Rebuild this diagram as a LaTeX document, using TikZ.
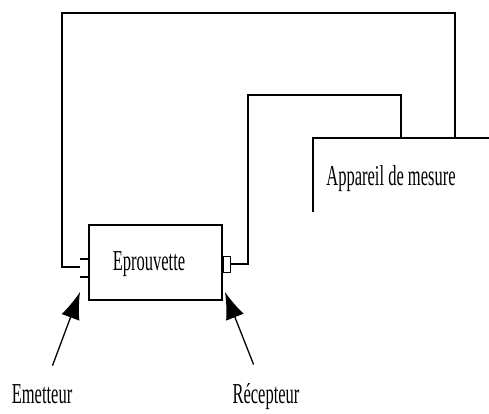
\documentclass[tikz,border=0pt]{standalone}
\usepackage{fontspec}
\setmainfont{Liberation Serif}
\usetikzlibrary{arrows.meta}
\newcommand{\tall}[1]{\scalebox{1}[1.75]{#1}}
\begin{document}
\begin{tikzpicture}[x=1pt,y=-1pt,line width=1.4pt,
  lbl/.style={inner sep=0pt,anchor=base,font=\fontsize{16.5}{18}\selectfont},
  arr/.style={line width=1.3pt,shorten <=19pt,-{Latex[length=27pt,width=19pt]}}]
\useasboundingbox (0,0) rectangle (489,414);
\node[draw,minimum width=133,minimum height=75] (ep) at (155.5,262.5) {};
\node[lbl] (eptxt) at (149,270) {\tall{Eprouvette}};
\node[draw,line width=1pt,minimum width=7,minimum height=16,inner sep=0pt,anchor=west] (rc) at ([yshift=-1.5]ep.east) {};
\foreach \y in {259,277} {
\draw (80,\y) -- (ep.west |- 0,\y);
}
\coordinate (lc) at (80,267);
\draw (489,138) -| (313,212);
\coordinate (a1) at (401,138);
\coordinate (a2) at (455,138);
\node[lbl] (app) at (391,185) {\tall{Appareil de mesure}};
\draw (lc) -| (62,13) -| (a2);
\draw (rc.east) -| (248,95) -| (a1);
\node[lbl] (em) at (42,403) {\tall{Emetteur}};
\node[lbl] (rec) at (266,403) {\tall{Récepteur}};
\coordinate (et) at (80,292);
\coordinate (rt) at (225,292);
\draw[arr] (em) -- (et);
\draw[arr] (rec) -- (rt);
\end{tikzpicture}
\end{document}
